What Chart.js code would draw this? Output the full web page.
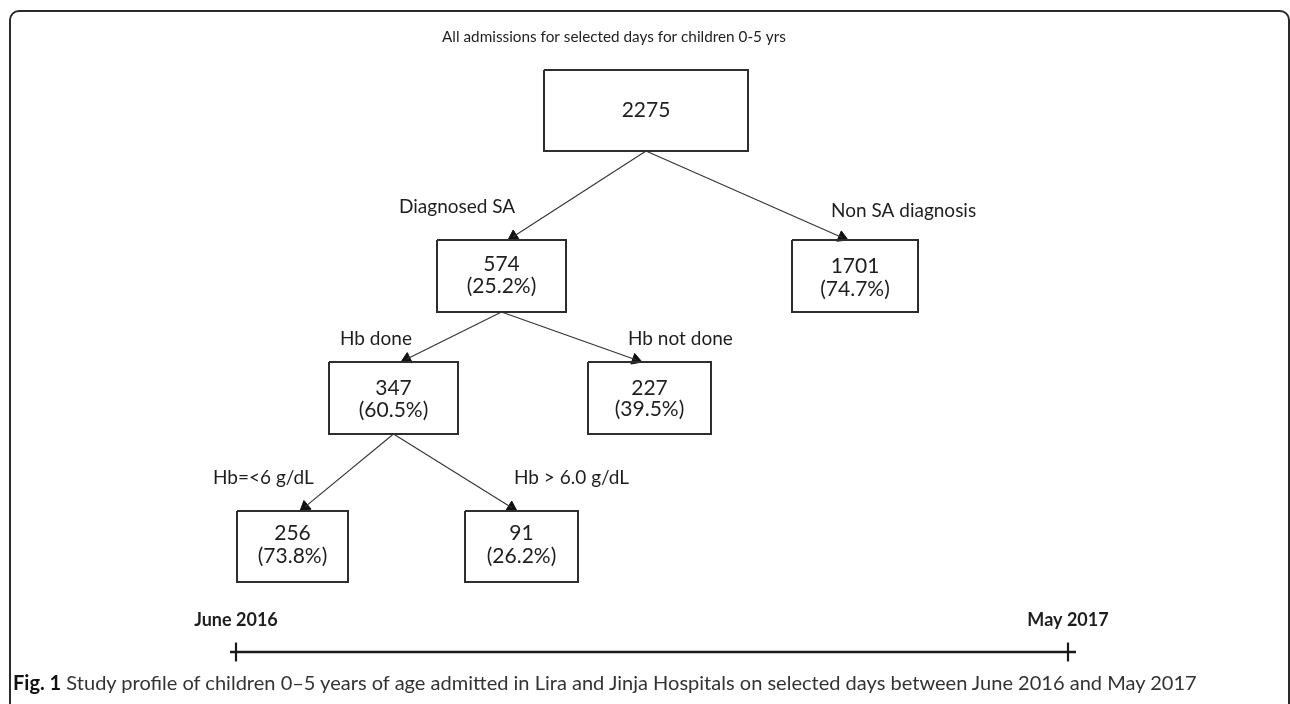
<!DOCTYPE html>
<html>
<head>
<meta charset="utf-8">
<title>Study profile</title>
<script src="https://cdn.jsdelivr.net/npm/chart.js@4"></script>
<style>
  html, body { margin: 0; padding: 0; background: #fff; }
  #wrap { position: relative; width: 1290px; height: 704px; overflow: hidden; }
  #frame {
    position: absolute; left: 9px; top: 10px; width: 1277px; height: 760px;
    border: 2px solid #2a2a2a; border-radius: 10px;
  }
  #flow { position: absolute; left: 0; top: 0; }
  #caption {
    position: absolute; left: 13px; top: 670px; white-space: nowrap;
    font-family: Lato, "Open Sans", sans-serif; font-size: 17px; color: #333;
  }
  #caption b { color: #111; }
</style>
</head>
<body>
<div id="wrap">
  <div id="frame"></div>
  <canvas id="flow" width="1290" height="704"></canvas>
  <div id="caption"><b>Fig. 1</b> Study profile of children 0–5 years of age admitted in Lira and Jinja Hospitals on selected days between June 2016 and May 2017</div>
</div>
<script>
'use strict'

// data
const titleText = 'All admissions for selected days for children 0-5 yrs';
const counts = [2275, 574, 1701, 347, 227, 256, 91];
const shares = ['', '25.2%', '74.7%', '60.5%', '39.5%', '73.8%', '26.2%'];
const edgeFrom = [0, 0, 1, 1, 3, 3];
const edgeTo = [1, 2, 3, 4, 5, 6];
const edgeLabels = ['Diagnosed SA', 'Non SA diagnosis', 'Hb done', 'Hb not done', 'Hb=<6 g/dL', 'Hb > 6.0 g/dL'];
const periodLabels = ['June 2016', 'May 2017'];

// layout (in page units, the axes run 0..1290 and 0..704)
const boxes = [
  [544, 70, 748, 151],
  [437, 240, 566, 312],
  [792, 240, 918, 312],
  [329, 362, 458, 434],
  [588, 362, 711, 434],
  [237, 511, 348, 582],
  [465, 511, 578, 582]
];
const countBase = [117, 271, 273, 395, 395, 540, 540];
const shareBase = [0, 293, 296, 417, 416, 563, 563];
const arrowTips = [[508, 240], [848, 240], [401, 362], [642, 362], [300, 511], [517, 511]];
const labelPos = [[399, 213], [831, 217], [340, 345], [628, 345], [213, 484], [514, 484]];
const titlePos = [442, 42];
const timeline = [[230, 652], [1076, 652]];
const timeTicks = [236, 1068];
const periodBase = 626;

const ink = '#1e1e1e';
const arrowSize = 6.5;

let datasets = [];

// boxes
for (let b of boxes) {
  datasets.push({
    data: [{x: b[0], y: b[1]}, {x: b[2], y: b[1]}, {x: b[2], y: b[3]}, {x: b[0], y: b[3]}, {x: b[0], y: b[1]}],
    showLine: true, borderColor: '#2e2e2e', borderWidth: 2, pointRadius: 0, borderJoinStyle: 'miter'
  });
}

// edges with arrow heads
for (let i = 0; i < edgeFrom.length; i++) {
  const p = boxes[edgeFrom[i]];
  const sx = (p[0] + p[2]) / 2;
  const sy = p[3];
  const tip = arrowTips[i];
  const dx = tip[0] - sx;
  const dy = tip[1] - sy;
  const len = Math.sqrt(dx * dx + dy * dy);
  const cx = tip[0] - dx / len * arrowSize;
  const cy = tip[1] - dy / len * arrowSize;
  datasets.push({
    data: [{x: sx, y: sy}, {x: cx, y: cy}],
    showLine: true, borderColor: '#333', borderWidth: 1.1, pointRadius: 0
  });
  datasets.push({
    data: [{x: cx, y: cy}],
    pointStyle: 'triangle', rotation: Math.atan2(dx, -dy) * 180 / Math.PI,
    pointRadius: arrowSize, backgroundColor: '#111', borderColor: '#111', borderWidth: 1
  });
}

// timeline
datasets.push({
  data: timeline.map(p => ({x: p[0], y: p[1]})),
  showLine: true, borderColor: '#1a1a1a', borderWidth: 2.5, pointRadius: 0
});
datasets.push({
  data: timeTicks.map(t => ({x: t, y: timeline[0][1]})),
  pointStyle: 'line', rotation: 90, pointRadius: 9.5,
  borderColor: '#1a1a1a', pointBorderWidth: 2.2
});

const textPlugin = {
  id: 'flowText',
  afterDatasetsDraw(chart) {
    const ctx = chart.ctx;
    const x = chart.scales.x;
    const y = chart.scales.y;
    ctx.save();
    ctx.fillStyle = ink;
    ctx.textBaseline = 'alphabetic';

    ctx.textAlign = 'left';
    ctx.font = '15.3px Lato';
    ctx.fillText(titleText, x.getPixelForValue(titlePos[0]), y.getPixelForValue(titlePos[1]));

    ctx.font = '19px Lato';
    for (let i = 0; i < edgeLabels.length; i++) {
      ctx.fillText(edgeLabels[i], x.getPixelForValue(labelPos[i][0]), y.getPixelForValue(labelPos[i][1]));
    }

    ctx.textAlign = 'center';
    ctx.font = '21px Lato';
    for (let i = 0; i < counts.length; i++) {
      const cx = x.getPixelForValue((boxes[i][0] + boxes[i][2]) / 2);
      ctx.fillText(String(counts[i]), cx, y.getPixelForValue(countBase[i]));
      if (shares[i]) {
        ctx.fillText('(' + shares[i] + ')', cx, y.getPixelForValue(shareBase[i]));
      }
    }

    ctx.font = 'bold 18px Lato';
    for (let i = 0; i < periodLabels.length; i++) {
      ctx.fillText(periodLabels[i], x.getPixelForValue(timeTicks[i]), y.getPixelForValue(periodBase));
    }
    ctx.restore();
  }
};

const flowChart = new Chart(document.getElementById('flow').getContext('2d'), {
  type: 'scatter',
  data: { datasets: datasets },
  options: {
    responsive: false,
    animation: false,
    devicePixelRatio: 1,
    events: [],
    layout: { padding: 0, autoPadding: false },
    plugins: { legend: { display: false }, tooltip: { enabled: false } },
    scales: {
      x: { type: 'linear', min: 0, max: 1290, display: false },
      y: { type: 'linear', min: 0, max: 704, reverse: true, display: false }
    }
  },
  plugins: [textPlugin]
});

// stretch the caption to the width it has in the figure
const caption = document.getElementById('caption');
const captionWidth = caption.getBoundingClientRect().width;
caption.style.fontSize = (17 * 1184 / captionWidth).toFixed(2) + 'px';
</script>
</body>
</html>
